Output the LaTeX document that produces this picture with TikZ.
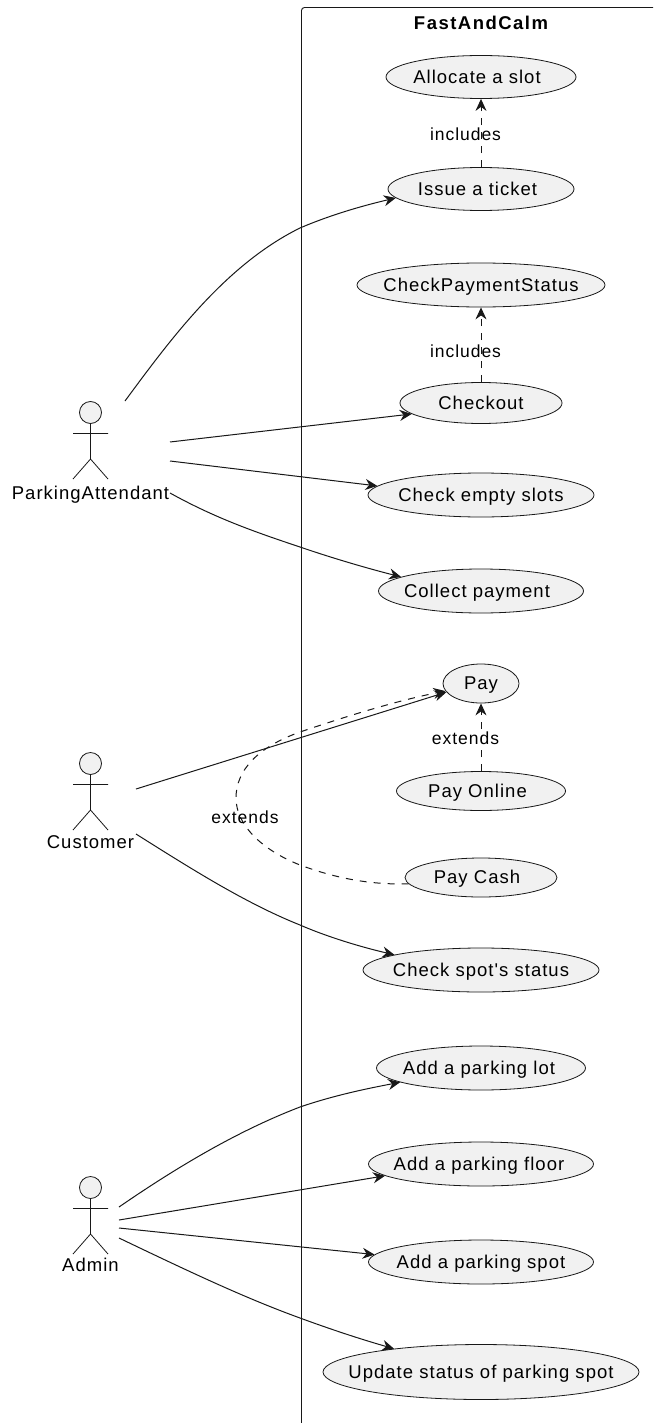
\documentclass[tikz,border=0pt]{standalone}
\usepackage{fontspec}
\setmainfont[LetterSpace=5.5,Ligatures=TeXOff]{Liberation Sans}
\usetikzlibrary{arrows.meta,shapes.geometric}
\definecolor{ucfill}{HTML}{F1F1F1}
\definecolor{ink}{HTML}{181818}
\newcommand{\tleft}[2]{\kern-#1pt #2}
\tikzset{
  x=1pt,y=-1pt,
  uc/.style={ellipse,draw=ink,fill=ucfill,line width=0.8pt,inner xsep=-40pt,inner ysep=-15pt,text height=13.3pt,text depth=1.2pt,font=\fontsize{18.5}{20}\selectfont,text=black},
  lbl/.style={inner sep=0pt,font=\fontsize{17.5}{20}\selectfont,text=black},
  actorlbl/.style={inner sep=0pt,text height=13.3pt,text depth=0pt,font=\fontsize{18.5}{20}\selectfont,text=black},
  assoc/.style={draw=ink,line width=1pt,-{Stealth[length=12pt,width=11pt,inset=4pt]}},
  dep/.style={assoc,dash pattern=on 7pt off 7pt},
  limb/.style={draw=ink,line width=0.8pt},
  head/.style={circle,draw=ink,fill=ucfill,line width=0.8pt,minimum size=22pt,inner sep=0pt}
}
\begin{document}
\begin{tikzpicture}
\useasboundingbox (0,0) rectangle (653,1423);
\clip (0,0) rectangle (653,1423);
\draw[draw=ink,line width=0.9pt,rounded corners=3pt] (301.5,1450) -- (301.5,7.5) -- (680,7.5) -- (680,1450);
\node[font=\bfseries\fontsize{18.5}{20}\selectfont,inner sep=0pt] (title) at (481,22.5) {\addfontfeature{LetterSpace=8}FastAndCalm};

\node[uc,minimum width=190pt,minimum height=43pt] (alloc) at (481,77) {\tleft{8}{Allocate a slot}};
\node[uc,minimum width=186pt,minimum height=43pt] (issue) at (481,189) {\tleft{7}{Issue a ticket}};
\node[uc,minimum width=248pt,minimum height=44pt] (cps) at (481,285) {CheckPaymentStatus};
\node[uc,minimum width=162pt,minimum height=41pt] (checkout) at (481,403) {Checkout};
\node[uc,minimum width=226pt,minimum height=44pt] (empty) at (481,495) {Check empty slots};
\node[uc,minimum width=205pt,minimum height=44pt] (collect) at (481,591) {\tleft{8}{Collect payment}};
\node[uc,minimum width=76pt,minimum height=39pt] (pay) at (481,683.5) {Pay};
\node[uc,minimum width=169pt,minimum height=39pt] (online) at (481,791) {\tleft{7}{Pay Online}};
\node[uc,minimum width=152pt,minimum height=39pt] (cash) at (481,877.5) {\tleft{8}{Pay Cash}};
\node[uc,minimum width=236pt,minimum height=44pt] (spotstatus) at (481,970) {Check spot's status};
\node[uc,minimum width=209pt,minimum height=44pt] (lot) at (481,1068) {\tleft{4}{Add a parking lot}};
\node[uc,minimum width=225pt,minimum height=44pt] (floor) at (481,1164) {\tleft{4}{Add a parking floor}};
\node[uc,minimum width=225pt,minimum height=44pt] (pspot) at (481,1262) {Add a parking spot};
\node[uc,minimum width=316pt,minimum height=55pt] (update) at (481,1372) {Update status of parking spot};

% actors
\node[head] (pah) at (90.5,412.5) {};
\draw[limb] (pah.south) -- (90.5,459) (73,433.5) -- (108,433.5) (73,479) -- (90.5,459) -- (108,479);
\node[actorlbl] (pa) at (90.5,492.7) {ParkingAttendant};
\node[head] (cuh) at (90.5,763.5) {};
\draw[limb] (cuh.south) -- (90.5,810) (73,784.5) -- (108,784.5) (73,830) -- (90.5,810) -- (108,830);
\node[actorlbl] (cu) at (90.5,842) {Customer};
\node[head] (adh) at (90.5,1187.5) {};
\draw[limb] (adh.south) -- (90.5,1234) (73,1208.5) -- (108,1208.5) (73,1254) -- (90.5,1234) -- (108,1254);
\node[actorlbl] (ad) at (90.5,1265) {Admin};

% free ends of actor connectors
\coordinate (p1) at (125,401);
\coordinate (p2) at (170,442);
\coordinate (p3) at (170,461);
\coordinate (p4) at (170,493);
\coordinate (c1) at (136,789);
\coordinate (c2) at (136,834);
\coordinate (a1) at (119,1207);
\coordinate (a2) at (119,1220);
\coordinate (a3) at (119,1228);
\coordinate (a4) at (119,1238);

\draw[assoc] (p1) .. controls (170,340) and (225,265) .. (300,228) .. controls (335,213) and (370,204) .. (issue.186);
\draw[assoc] (p2) -- (checkout.189);
\draw[assoc] (p3) -- (empty.175);
\draw[assoc] (p4) .. controls (215,518) and (255,532) .. (300,547) .. controls (335,559) and (370,569) .. (collect.170);
\draw[assoc] (c1) -- (pay.194);
\draw[assoc] (c2) .. controls (190,868) and (245,903) .. (300,925) .. controls (330,938) and (365,948) .. (spotstatus.170);
\draw[assoc] (a1) .. controls (180,1165) and (240,1130) .. (300,1107) .. controls (335,1095) and (370,1088) .. (lot.190);
\draw[assoc] (a2) -- (floor.187);
\draw[assoc] (a3) -- (pspot.176);
\draw[assoc] (a4) .. controls (190,1272) and (245,1298) .. (300,1318) .. controls (330,1329) and (360,1339) .. (update.165);

\draw[dep] (issue.north) -- (alloc.south);
\draw[dep] (checkout.north) -- (cps.south);
\draw[dep] (online.north) -- (pay.south);
\draw[dep] (cash.185) .. controls (370,885) and (335,878) .. (300,865) .. controls (262,850) and (236,825) .. (236,798) .. controls (236,770) and (258,747) .. (300,732) .. controls (350,715) and (400,700) .. (pay.192);

\node[lbl] (l1) at (465.5,134) {includes};
\node[lbl] (l2) at (465.5,351) {includes};
\node[lbl] (l3) at (465.5,738.5) {extends};
\node[lbl] (l4) at (245,817) {extends};
\end{tikzpicture}
\end{document}
